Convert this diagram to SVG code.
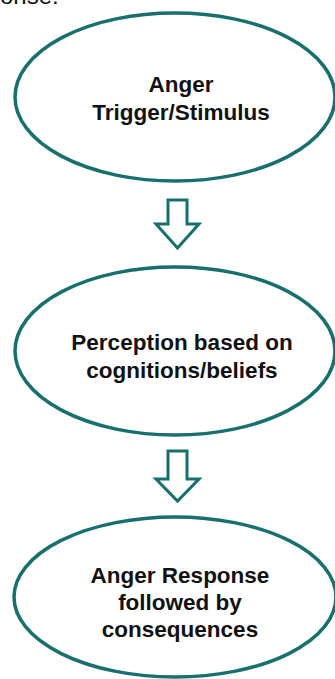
<svg xmlns="http://www.w3.org/2000/svg" width="335" height="679" viewBox="0 0 335 679">
<style>
.node{fill:#ffffff;stroke:#17706e;stroke-width:3.5}
.arrow{fill:#ffffff;stroke:#17706e;stroke-width:3;stroke-linejoin:miter}
.lbl{font-family:"Liberation Sans",Arial,sans-serif;font-weight:bold;font-size:22.5px;fill:#111111;text-anchor:middle}
.frag{font-family:"Liberation Sans",Arial,sans-serif;font-size:24px;fill:#111111}
</style>
<rect width="335" height="679" fill="#ffffff"/>
<text class="frag" x="0" y="4">onse:</text>
<g id="node-trigger">
<ellipse class="node" cx="175" cy="97" rx="160" ry="84"/>
<text class="lbl" x="181" y="92">Anger</text>
<text class="lbl" x="181" y="120">Trigger/Stimulus</text>
</g>
<g id="node-perception">
<ellipse class="node" cx="175" cy="351" rx="160" ry="84"/>
<text class="lbl" x="182" y="350">Perception based on</text>
<text class="lbl" x="182" y="378">cognitions/beliefs</text>
</g>
<g id="node-response">
<ellipse class="node" cx="175" cy="597" rx="161" ry="80"/>
<text class="lbl" x="180" y="583">Anger Response</text>
<text class="lbl" x="180" y="610">followed by</text>
<text class="lbl" x="180" y="637">consequences</text>
</g>
<g id="connectors">
<path class="arrow" d="M168,200 H187 V224 H199 L177.5,248 L156,224 H168 Z"/>
<path class="arrow" d="M168,451 H187 V479 H199 L177.5,501 L156,479 H168 Z"/>
</g>
</svg>
